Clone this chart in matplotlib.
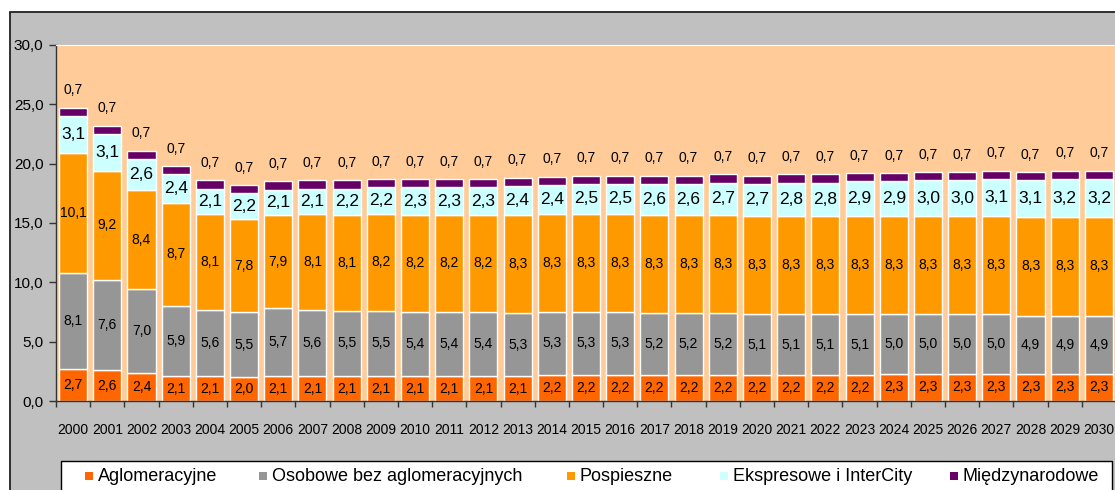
import matplotlib
matplotlib.use("Agg")
import matplotlib.pyplot as plt
from matplotlib.patches import Rectangle
import numpy as np

years = [str(y) for y in range(2000, 2031)]
aglomeracyjne = [2.7, 2.6, 2.4, 2.1, 2.1, 2.0, 2.1, 2.1, 2.1, 2.1,
                 2.1, 2.1, 2.1, 2.1, 2.2, 2.2, 2.2, 2.2, 2.2, 2.2,
                 2.2, 2.2, 2.2, 2.2, 2.3, 2.3, 2.3, 2.3, 2.3, 2.3, 2.3]
osobowe = [8.1, 7.6, 7.0, 5.9, 5.6, 5.5, 5.7, 5.6, 5.5, 5.5,
           5.4, 5.4, 5.4, 5.3, 5.3, 5.3, 5.3, 5.2, 5.2, 5.2,
           5.1, 5.1, 5.1, 5.1, 5.0, 5.0, 5.0, 5.0, 4.9, 4.9, 4.9]
pospieszne = [10.1, 9.2, 8.4, 8.7, 8.1, 7.8, 7.9, 8.1, 8.1, 8.2,
              8.2, 8.2, 8.2, 8.3, 8.3, 8.3, 8.3, 8.3, 8.3, 8.3,
              8.3, 8.3, 8.3, 8.3, 8.3, 8.3, 8.3, 8.3, 8.3, 8.3, 8.3]
ekspresowe = [3.1, 3.1, 2.6, 2.4, 2.1, 2.2, 2.1, 2.1, 2.2, 2.2,
              2.3, 2.3, 2.3, 2.4, 2.4, 2.5, 2.5, 2.6, 2.6, 2.7,
              2.7, 2.8, 2.8, 2.9, 2.9, 3.0, 3.0, 3.1, 3.1, 3.2, 3.2]
miedzynarodowe = [0.7] * 31

series_names = ["Aglomeracyjne", "Osobowe bez aglomeracyjnych", "Pospieszne",
                "Ekspresowe i InterCity", "Międzynarodowe"]
series = [aglomeracyjne, osobowe, pospieszne, ekspresowe, miedzynarodowe]
colors = ["#FF6600", "#969696", "#FF9900", "#CCFFFF", "#660066"]
yticks = [0, 5, 10, 15, 20, 25, 30]

plt.rcParams["font.family"] = ["Liberation Sans", "DejaVu Sans"]

W, H = 1115, 490
fig = plt.figure(figsize=(W / 100, H / 100), dpi=100)
fig.patch.set_facecolor("white")

# outer chart frame
fig.patches.append(Rectangle((10 / W, -0.1), 1.2, (H - 12) / H + 0.1,
                             transform=fig.transFigure, facecolor="#C0C0C0",
                             edgecolor="#222222", linewidth=1.3, zorder=-2))

ax = fig.add_axes([56 / W, (H - 401) / H, (1116 - 56) / W, (401 - 45) / H])
ax.set_facecolor("#FFCC99")

x = np.arange(len(years))
bottom = np.zeros(len(years))
fmt = lambda v: f"{v:.1f}".replace(".", ",")
for i, (vals, col) in enumerate(zip(series, colors)):
    vals = np.array(vals)
    ax.bar(x, vals, bottom=bottom, width=0.82, color=col,
           edgecolor="white", linewidth=1.0, zorder=2)
    for xi, b, v in zip(x, bottom, vals):
        if i == 4:
            ax.annotate(fmt(v), (xi, b + v), xytext=(0, 7.5), textcoords="offset points",
                        ha="center", va="bottom", fontsize=10, color="#000000")
        else:
            fs = 12.5 if i == 3 else 10
            ax.text(xi, b + v / 2, fmt(v), ha="center", va="center",
                    fontsize=fs, color="#000000", zorder=3)
    bottom = bottom + vals

ax.set_xlim(-0.5, len(years) - 0.5)
ax.set_ylim(0, 30)
ax.set_yticks(yticks)
ax.set_yticklabels([fmt(v) for v in yticks], fontsize=11)
ax.set_xticks(x)
ax.set_xticklabels(years, fontsize=10)
ax.set_xticks(np.arange(-0.5, len(years)), minor=True)
ax.tick_params(axis="x", which="major", length=0, pad=16)
ax.tick_params(axis="x", which="minor", length=4, width=1, color="#333333")
ax.tick_params(axis="y", length=5, width=1, color="#333333", pad=4)
for s in ["left", "bottom"]:
    ax.spines[s].set_color("#333333")
    ax.spines[s].set_linewidth(1.0)
ax.spines["top"].set_color("white")
ax.spines["right"].set_visible(False)

# legend box
fig.patches.append(Rectangle((61 / W, -0.05), (1112 - 61) / W, (H - 461) / H + 0.05,
                             transform=fig.transFigure, facecolor="white",
                             edgecolor="black", linewidth=1.0, zorder=1))
leg_x = [85, 259, 567, 720, 950]
for name, col, lx in zip(series_names, colors, leg_x):
    fig.patches.append(Rectangle((lx / W, (H - 480) / H), 8 / W, 8 / H,
                                 transform=fig.transFigure, facecolor=col,
                                 edgecolor="none", zorder=2))
    fig.text((lx + 13) / W, (H - 476) / H, name, fontsize=13, va="center",
             ha="left", zorder=3)

fig.savefig("out.png", dpi=100)
